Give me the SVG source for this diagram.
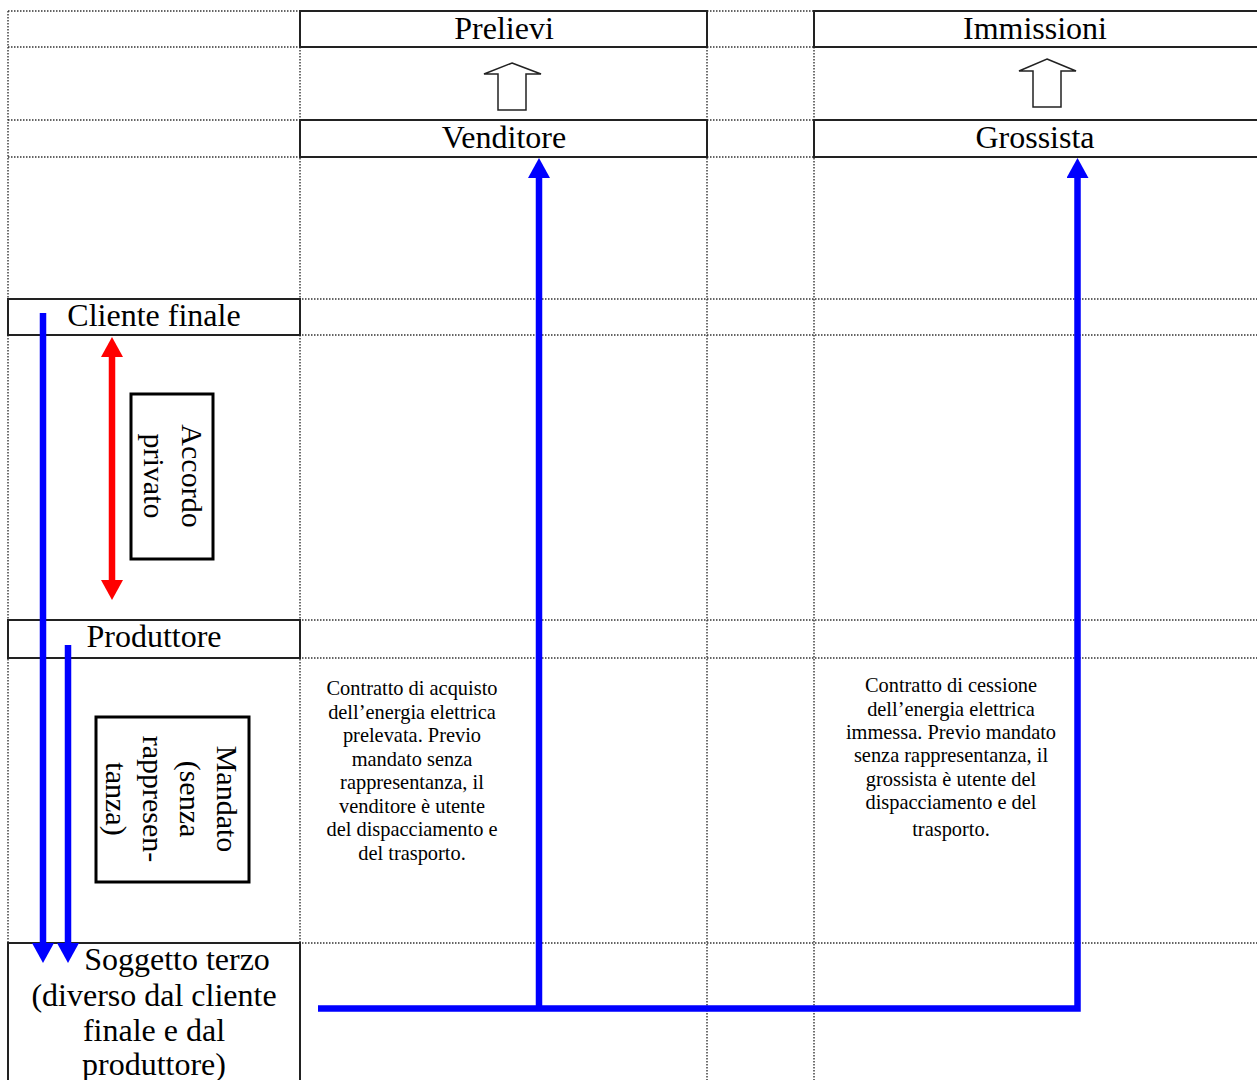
<svg xmlns="http://www.w3.org/2000/svg" width="1257" height="1080" viewBox="0 0 1257 1080">
<style>
.dot{stroke:#333;stroke-width:1.4;stroke-dasharray:1.5 1.5;fill:none}
.box{stroke:#222;stroke-width:2;fill:#fff}
.lbl{stroke:#000;stroke-width:3;fill:#fff}
.hol{stroke:#222;stroke-width:1.5;fill:#fff}
.t{font-family:"Liberation Serif","Times New Roman",serif;fill:#000;text-anchor:middle}
.h{font-size:32px}
.r{font-size:30px}
.s{font-size:20.4px}
.blue{stroke:#0000ff;stroke-width:6.5;fill:none;stroke-linejoin:miter}
.red{stroke:#ff0000;stroke-width:6.5;fill:none}
</style>
<defs>
<marker id="ab" viewBox="0 0 20 22" refX="0" refY="11" markerWidth="20" markerHeight="22" markerUnits="userSpaceOnUse" orient="auto"><path d="M0,0 L20,11 L0,22 z" fill="#0000ff"/></marker>
<marker id="ar" viewBox="0 0 20 22" refX="0" refY="11" markerWidth="20" markerHeight="22" markerUnits="userSpaceOnUse" orient="auto-start-reverse"><path d="M0,0 L20,11 L0,22 z" fill="#ff0000"/></marker>
</defs>
<rect width="1257" height="1080" fill="#fff"/>
<g id="grid">
<path class="dot" d="M8,11H1257M8,47H1257M8,120H1257M8,157H1257M8,299H1257M8,335H1257M8,620H1257M8,658H1257M8,943H1257"/>
<path class="dot" d="M8,11V1080M300,11V1080M707,11V1080M814,11V1080"/>
</g>
<g id="prelievi"><rect class="box" x="300" y="11" width="407" height="36"/><text class="t h" x="504" y="39">Prelievi</text></g>
<g id="immissioni"><rect class="box" x="814" y="11" width="450" height="36"/><text class="t h" x="1035" y="39">Immissioni</text></g>
<g id="arrow-prelievi"><polygon class="hol" points="512,63 541,74 526,74 526,110 498,110 498,74 484,74"/></g>
<g id="arrow-immissioni"><polygon class="hol" points="1047,59 1076,71 1061,71 1061,107 1033,107 1033,71 1019,71"/></g>
<g id="venditore"><rect class="box" x="300" y="120" width="407" height="37"/><text class="t h" x="504" y="148">Venditore</text></g>
<g id="grossista"><rect class="box" x="814" y="120" width="450" height="37"/><text class="t h" x="1035" y="148">Grossista</text></g>
<g id="cliente-finale"><rect class="box" x="8" y="299" width="292" height="36"/><text class="t h" x="154" y="326">Cliente finale</text></g>
<g id="produttore"><rect class="box" x="8" y="620" width="292" height="38"/><text class="t h" x="154" y="647">Produttore</text></g>
<g id="soggetto-terzo"><rect class="box" x="8" y="943" width="292" height="150"/>
<text class="t h" x="177" y="970">Soggetto terzo</text>
<text class="t h" x="154" y="1006">(diverso dal cliente</text>
<text class="t h" x="154" y="1041">finale e dal</text>
<text class="t h" x="154" y="1075">produttore)</text></g>
<g id="accordo-privato"><rect class="lbl" x="131" y="394" width="82" height="165"/>
<text class="t r" transform="translate(182,476) rotate(90)">Accordo</text>
<text class="t r" transform="translate(144,476) rotate(90)">privato</text></g>
<g id="mandato"><rect class="lbl" x="96" y="717" width="153" height="165"/>
<text class="t r" transform="translate(217,799) rotate(90)">Mandato</text>
<text class="t r" transform="translate(180,799) rotate(90)">(senza</text>
<text class="t r" transform="translate(143,799) rotate(90)">rappresen-</text>
<text class="t r" transform="translate(106,799) rotate(90)">tanza)</text></g>
<g id="nota-venditore">
<text class="t s" x="412" y="695">Contratto di acquisto</text>
<text class="t s" x="412" y="718.5">dell’energia elettrica</text>
<text class="t s" x="412" y="742">prelevata. Previo</text>
<text class="t s" x="412" y="765.5">mandato senza</text>
<text class="t s" x="412" y="789">rappresentanza, il</text>
<text class="t s" x="412" y="812.5">venditore è utente</text>
<text class="t s" x="412" y="836">del dispacciamento  e</text>
<text class="t s" x="412" y="860">del trasporto.</text>
</g>
<g id="nota-grossista">
<text class="t s" x="951" y="692">Contratto di cessione</text>
<text class="t s" x="951" y="715.5">dell’energia elettrica</text>
<text class="t s" x="951" y="738.5">immessa. Previo mandato</text>
<text class="t s" x="951" y="762">senza rappresentanza, il</text>
<text class="t s" x="951" y="785.5">grossista è utente del</text>
<text class="t s" x="951" y="809">dispacciamento e del</text>
<text class="t s" x="951" y="836">trasporto.</text>
</g>
<g id="connectors">
<line class="red" x1="112" y1="357" x2="112" y2="580" marker-start="url(#ar)" marker-end="url(#ar)"/>
<line class="blue" x1="43" y1="313" x2="43" y2="943" marker-end="url(#ab)"/>
<line class="blue" x1="68" y1="645" x2="68" y2="943" marker-end="url(#ab)"/>
<line class="blue" x1="539" y1="1008" x2="539" y2="178" marker-end="url(#ab)"/>
<path class="blue" d="M318,1008.5 H1077.5 V178" marker-end="url(#ab)"/>
</g>
</svg>
